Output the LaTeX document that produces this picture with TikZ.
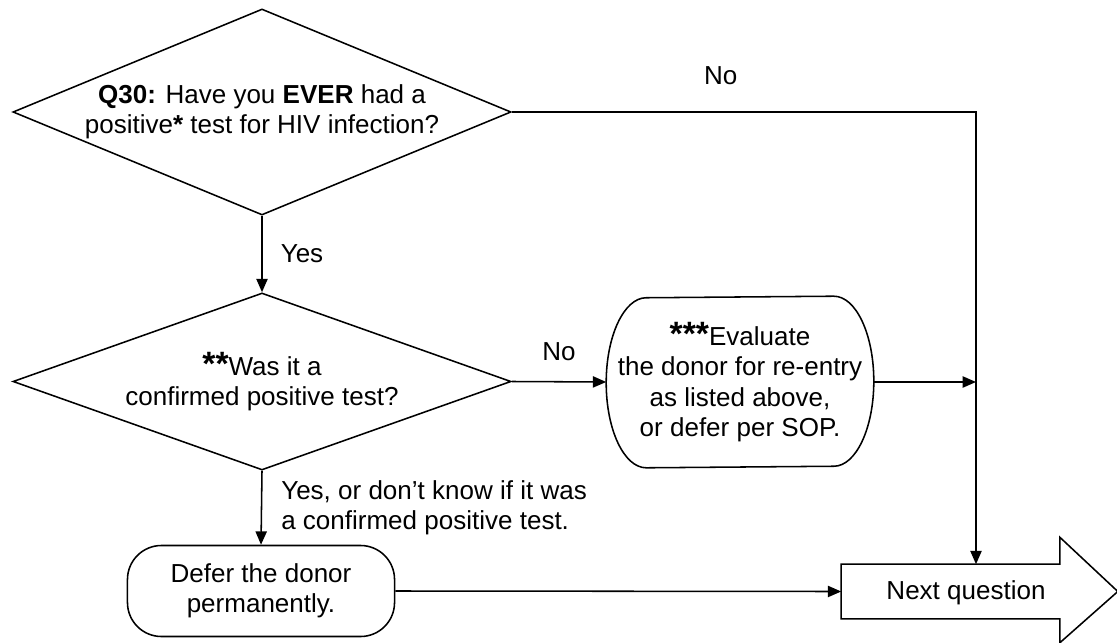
\documentclass[tikz,border=0pt]{standalone}
\usepackage{fontspec}
\setmainfont{Liberation Sans}
\usepackage{tikz}
\usetikzlibrary{arrows.meta, calc, positioning, shapes.geometric}

\newcommand{\bigstars}[1]{{\fontsize{24}{24}\selectfont\bfseries #1}}

\begin{document}
\begin{tikzpicture}[x=0.025cm, y=0.025cm, line width=1.1pt,
    font=\fontsize{18.5}{21.5}\selectfont,
    arr/.style={-{Triangle[length=9.5pt,width=8pt]}},
    question/.style={diamond, draw, inner sep=0pt, align=center},
    endbox/.style={draw, rounded corners=0.85cm, align=center, inner sep=0pt},
    evalbox/.style={align=center, inner sep=0pt, minimum width=6.65cm, minimum height=4.25cm},
    lbl/.style={inner sep=0pt}]
    \useasboundingbox (0,0) rectangle (1117,-643);

    % Questions
    \node[question, aspect=2.42, minimum width=12.45cm, minimum height=5.15cm] (q30) at (262,-112)
        {{\bfseries Q30:} Have you {\bfseries EVER} had a\\positive{\bfseries*} test for HIV infection?};
    \node[question, aspect=2.81, minimum width=12.45cm, minimum height=4.425cm] (confirm) at (262,-381.5)
        {\bigstars{**}Was it a\\confirmed positive test?};

    % Outcomes
    \node[evalbox] (evaluate) at (740,-382)
        {\bigstars{***}Evaluate\\the donor for re-entry\\as listed above,\\or defer per SOP.};
    \draw[line join=round] ([xshift=-1cm]evaluate.north east)
        arc[start angle=90, end angle=-90, x radius=1cm, y radius=2.125cm]
        -- ([xshift=1cm]evaluate.south west)
        arc[start angle=270, end angle=90, x radius=1cm, y radius=2.125cm] -- cycle;
    \node[endbox, minimum width=6.675cm, minimum height=2.275cm] (defer) at (261,-591)
        {Defer the donor\\permanently.};

    % Next question arrow
    \node[inner sep=0pt, minimum width=5.425cm, minimum height=1.325cm] (next) at (950.5,-591.5) {};
    \draw (next.north west) -- (next.north east) -- ++(0,27) -- ($(next.east)+(58,0)$)
        -- ($(next.south east)+(0,-24)$) -- (next.south east) -- (next.south west) -- cycle;
    \node[lbl] (nextlabel) at (966,-593) {Next question};

    % Connectors
    \coordinate (turn) at (976,-112);
    \draw[arr] (q30.south) -- node[lbl, right=0.45cm] {Yes} (confirm.north);
    \draw[arr] (q30.east) -- node[lbl, pos=0.45, above=0.65cm] {No} (turn) -- (turn |- next.north);
    \draw[arr] (confirm.east) -- node[lbl, above=0.5cm] {No} (evaluate.west);
    \draw[arr] (evaluate.east) -- (evaluate.east -| turn);
    \draw[arr] (confirm.south) -- node[lbl, right=0.475cm, align=left]
        {Yes, or don’t know if it was\\a confirmed positive test.} (defer.north);
    \draw[arr] (defer.east) -- (next.west);
\end{tikzpicture}
\end{document}
